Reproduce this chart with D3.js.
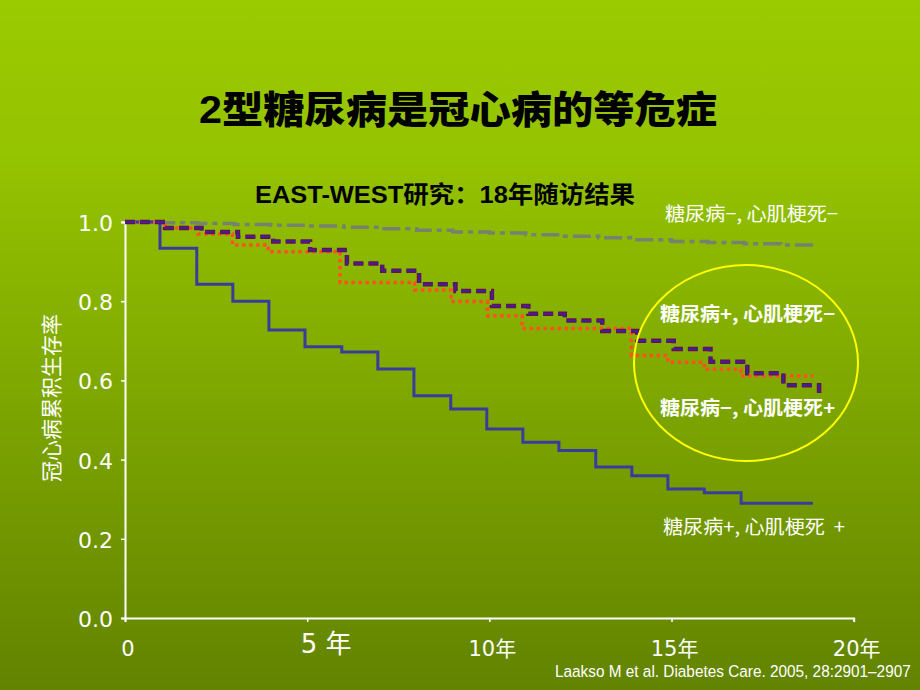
<!DOCTYPE html>
<html>
<head>
<meta charset="utf-8">
<script src="https://cdn.jsdelivr.net/npm/d3@7"></script>
<style>
  html, body { margin: 0; padding: 0; }
  body { width: 920px; height: 690px; overflow: hidden; }
  svg { display: block; }
  .pre { white-space: pre; }
</style>
</head>
<body>
<div id="chart"></div>
<script>
// ---------- data ----------
const titleText = "2型糖尿病是冠心病的等危症";
const subtitleText = "EAST-WEST研究：18年随访结果";
const yAxisTitle = "冠心病累积生存率";
const citation = "Laakso M et al. Diabetes Care. 2005, 28:2901–2907";

const xTickValues = [0, 5, 10, 15, 20];
const xTickLabels = ["0", "5 年", "10年", "15年", "20年"];
const yTickValues = [0, 0.2, 0.4, 0.6, 0.8, 1.0];

// 糖尿病−, 心肌梗死− (gray dash-dot)
const grayTimes = [0, 1, 2, 3, 4, 5, 6, 7, 8, 9, 10, 11, 12, 13, 14, 15, 16, 17, 18, 18.9];
const graySurv  = [1.0, 0.998, 0.996, 0.994, 0.992, 0.99, 0.987, 0.983, 0.979, 0.975, 0.972, 0.968, 0.964, 0.96, 0.955, 0.951, 0.948, 0.945, 0.942, 0.942];

// 糖尿病+, 心肌梗死− (purple dashed)
const purpleTimes = [0, 1.1, 2.1, 3.1, 4.07, 5.08, 6.09, 7.06, 8.07, 9.07, 10.07, 11.07, 12.07, 13.1, 14.06, 15.06, 16.07, 17.08, 18.07, 19.05];
const purpleSurv  = [1.0, 0.985, 0.975, 0.963, 0.951, 0.929, 0.895, 0.877, 0.843, 0.826, 0.788, 0.768, 0.751, 0.725, 0.70, 0.679, 0.647, 0.618, 0.588, 0.567];

// 糖尿病−, 心肌梗死+ (orange dotted)
const orangeTimes = [0, 1.1, 2.0, 2.95, 3.93, 5.9, 7.95, 8.95, 9.95, 10.9, 13.9, 14.9, 15.9, 16.9, 18.9];
const orangeSurv  = [1.0, 0.985, 0.97, 0.942, 0.925, 0.847, 0.828, 0.799, 0.763, 0.731, 0.663, 0.646, 0.628, 0.611, 0.611];

// 糖尿病+, 心肌梗死+ (blue solid)
const blueTimes = [0, 0.96, 1.97, 2.96, 3.95, 4.94, 5.95, 6.94, 7.93, 8.94, 9.93, 10.92, 11.91, 12.92, 13.91, 14.9, 15.9, 16.91, 18.88];
const blueSurv  = [1.0, 0.934, 0.843, 0.80, 0.727, 0.685, 0.672, 0.629, 0.561, 0.528, 0.477, 0.444, 0.423, 0.381, 0.359, 0.326, 0.316, 0.290, 0.290];

const seriesLabels = ["糖尿病−, 心肌梗死−", "糖尿病+, 心肌梗死−", "糖尿病−, 心肌梗死+", "糖尿病+, 心肌梗死  +"];

// ---------- drawing ----------
const W = 920, H = 690;
const svg = d3.select("#chart").append("svg").attr("width", W).attr("height", H);

const defs = svg.append("defs");
const grad = defs.append("linearGradient").attr("id", "bg").attr("x1", 0).attr("y1", 0).attr("x2", 0).attr("y2", 1);
grad.append("stop").attr("offset", "0%").attr("stop-color", "#9aca00");
grad.append("stop").attr("offset", "22%").attr("stop-color", "#95c400");
grad.append("stop").attr("offset", "100%").attr("stop-color", "#628300");
svg.append("rect").attr("width", W).attr("height", H).attr("fill", "url(#bg)");

const cjk = "'Noto Sans CJK SC', 'Noto Sans CJK JP', sans-serif";
const latinCjk = "'Liberation Sans', Arial, 'Noto Sans CJK SC', sans-serif";
const numFont = "'DejaVu Sans', 'Noto Sans CJK SC', sans-serif";

// Title
svg.append("text").attr("x", 199).attr("y", 123)
  .attr("font-family", latinCjk).attr("font-weight", 900).attr("font-size", 38)
  .attr("fill", "#000").attr("textLength", 518).attr("lengthAdjust", "spacingAndGlyphs")
  .text(titleText);

// Subtitle
svg.append("text").attr("x", 255).attr("y", 203)
  .attr("font-family", latinCjk).attr("font-weight", "bold").attr("font-size", 24)
  .attr("fill", "#000").attr("textLength", 380).attr("lengthAdjust", "spacingAndGlyphs")
  .text(subtitleText);

const x = d3.scaleLinear().domain([0, 20]).range([125, 853.7]);
const y = d3.scaleLinear().domain([0, 1]).range([618, 222]);

// Axes
const axisG = svg.append("g");
axisG.append("g").attr("transform", `translate(${x(0)},0)`)
  .call(d3.axisLeft(y).tickValues(yTickValues).tickSize(4).tickFormat(""));
axisG.append("g").attr("transform", `translate(0,${y(0)})`)
  .call(d3.axisBottom(x).tickValues(xTickValues).tickSize(4).tickFormat(""));
axisG.selectAll(".domain").attr("stroke", "#fff").attr("stroke-width", 2);
axisG.selectAll(".tick line").attr("stroke", "#fff").attr("stroke-width", 1.5);

// Y tick labels
svg.append("g").selectAll("text").data(yTickValues).join("text")
  .attr("x", 113).attr("y", d => y(d) + 9)
  .attr("text-anchor", "end")
  .attr("font-family", numFont).attr("font-size", 22).attr("fill", "#fff")
  .text(d => d3.format(".1f")(d));

// X tick labels
svg.append("g").selectAll("text").data(xTickValues).join("text")
  .attr("class", "pre")
  .attr("x", (d, i) => x(d) + (i === 1 ? 19 : 3))
  .attr("y", (d, i) => i === 1 ? 653 : 656)
  .attr("text-anchor", "middle")
  .attr("font-family", numFont).attr("font-size", (d, i) => i === 1 ? 26 : 21).attr("fill", "#fff")
  .text((d, i) => xTickLabels[i]);

// Y axis title
svg.append("text")
  .attr("transform", "translate(59,398) rotate(-90)")
  .attr("text-anchor", "middle")
  .attr("font-family", cjk).attr("font-size", 21).attr("fill", "#fff")
  .text(yAxisTitle);

// Citation (horizontally condensed to fit, via transform)
const cite = svg.append("text")
  .attr("font-family", "'Liberation Sans Narrow', 'Liberation Sans', Arial, sans-serif")
  .attr("font-size", 17).attr("fill", "#fff")
  .text(citation);
const citeLen = cite.node().getComputedTextLength();
const citeScale = Math.min(1, 356 / citeLen);
cite.attr("transform", `translate(555,677) scale(${citeScale},1)`);

// Curves
const line = d3.line().x(d => x(d[0])).y(d => y(d[1])).curve(d3.curveStepAfter);
const zip = (t, s) => t.map((v, i) => [v, s[i]]);
const plot = svg.append("g").attr("fill", "none");

plot.append("path").attr("d", line(zip(grayTimes, graySurv)))
  .attr("stroke", "#77816f").attr("stroke-width", 3.5).attr("stroke-dasharray", "18,5,5,5");

plot.append("path").attr("d", line(zip(blueTimes, blueSurv)))
  .attr("stroke", "#3a3c9c").attr("stroke-width", 3);

plot.append("path").attr("d", line(zip(orangeTimes, orangeSurv)))
  .attr("stroke", "#ff5220").attr("stroke-width", 3.5).attr("stroke-dasharray", "3.5,3.5");

const purpleD = line(zip(purpleTimes, purpleSurv));
plot.append("path").attr("d", purpleD)
  .attr("stroke", "#6a0f48").attr("stroke-width", 4.5).attr("stroke-dasharray", "10,5");
plot.append("path").attr("d", purpleD)
  .attr("stroke", "#3a22a8").attr("stroke-width", 1.8).attr("stroke-dasharray", "10,5");

// Highlight ellipse
svg.append("ellipse").attr("cx", 746).attr("cy", 363).attr("rx", 112).attr("ry", 98)
  .attr("fill", "none").attr("stroke", "#ffff00").attr("stroke-width", 2);

// Series labels
const labelSpecs = [
  {x: 665, y: 221, w: 173, bold: false},
  {x: 660, y: 321, w: 175, bold: true},
  {x: 660, y: 415, w: 175, bold: true},
  {x: 663, y: 534, w: 182, bold: false}
];
svg.append("g").selectAll("text").data(seriesLabels).join("text")
  .attr("class", "pre")
  .attr("x", (d, i) => labelSpecs[i].x).attr("y", (d, i) => labelSpecs[i].y)
  .attr("font-family", cjk).attr("font-size", 19)
  .attr("font-weight", (d, i) => labelSpecs[i].bold ? "bold" : "normal")
  .attr("fill", "#fff")
  .attr("textLength", (d, i) => labelSpecs[i].w).attr("lengthAdjust", "spacingAndGlyphs")
  .text(d => d);
</script>
</body>
</html>
